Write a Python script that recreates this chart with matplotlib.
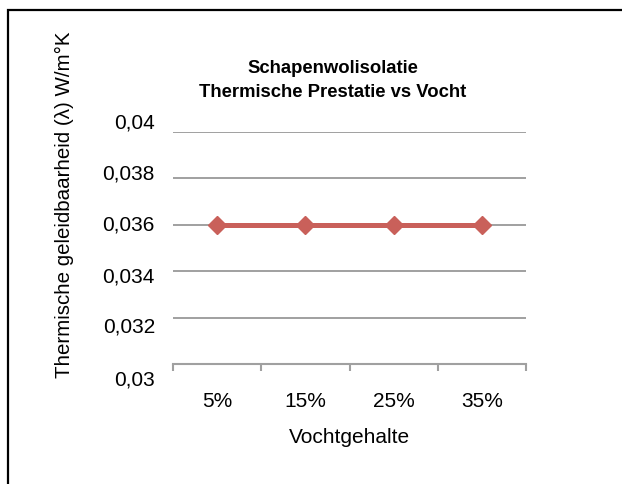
import numpy as np
import matplotlib.pyplot as plt
import matplotlib.transforms as mtransforms
from matplotlib.patches import Rectangle

plt.rcParams['font.family'] = ['Liberation Sans', 'DejaVu Sans']

# data
vocht = ["5%", "15%", "25%", "35%"]
lambda_waarde = [0.036, 0.036, 0.036, 0.036]
y_ticks = [0.03, 0.032, 0.034, 0.036, 0.038, 0.04]
y_labels = ["0,03", "0,032", "0,034", "0,036", "0,038", "0,04"]

fig = plt.figure(figsize=(6.22, 4.84), dpi=100)
ax = fig.add_axes([0.278, 0.248, 0.568, 0.479])

x = np.arange(len(vocht))
ax.plot(x, lambda_waarde, color="#C9605A", linewidth=3.6,
        marker="D", markersize=9.5, zorder=3)

ax.set_xlim(-0.5, len(vocht) - 0.5)
ax.set_ylim(0.03, 0.04)
ax.set_yticks(y_ticks)
ax.set_yticklabels([])
ax.set_xticks(x)
ax.set_xticklabels(vocht, fontsize=15)
ax.set_xticks(np.arange(-0.5, len(vocht)), minor=True)

# y labels drawn by hand: Excel spaces them a bit wider than the gridlines
offs = [-16, -9, -6, 0, 4, 9]  # px, vertical nudge per label
for v, lab, o in zip(y_ticks, y_labels, offs):
    tr = ax.get_yaxis_transform() + mtransforms.ScaledTranslation(
        -18 / 100, o / 100, fig.dpi_scale_trans)
    ax.text(0, v, lab, transform=tr, ha="right", va="center", fontsize=15)

ax.tick_params(axis="y", length=0)
ax.tick_params(axis="x", which="major", length=0, pad=20)
ax.tick_params(axis="x", which="minor", length=5, width=1.5,
               color="#A0A0A0", direction="out")

ax.grid(axis="y", color="#A0A0A0", linewidth=1.4)
ax.set_axisbelow(True)
for s in ["top", "right", "left"]:
    ax.spines[s].set_visible(False)
ax.spines["bottom"].set_color("#A0A0A0")
ax.spines["bottom"].set_linewidth(1.5)
ax.spines["bottom"].set_zorder(2)

ax.set_xlabel("Vochtgehalte", fontsize=15)
ax.xaxis.set_label_coords(0.5, -0.275)
ax.set_ylabel("Thermische geleidbaarheid (λ) W/m°K", fontsize=14.8)
ax.yaxis.set_label_coords(-0.28, 0.685)
fig.text(0.535, 0.834, "Schapenwolisolatie\nThermische Prestatie vs Vocht",
         ha="center", va="center", fontsize=13.3, fontweight="bold",
         linespacing=1.5)

# outer frame (only left and top are visible in the crop)
fig.patches.append(Rectangle((8 / 622, -0.1), 1.1, 1.1 - 10 / 484,
                             transform=fig.transFigure, fill=False,
                             edgecolor="black", linewidth=1.6))

fig.savefig("out.png", dpi=100)
